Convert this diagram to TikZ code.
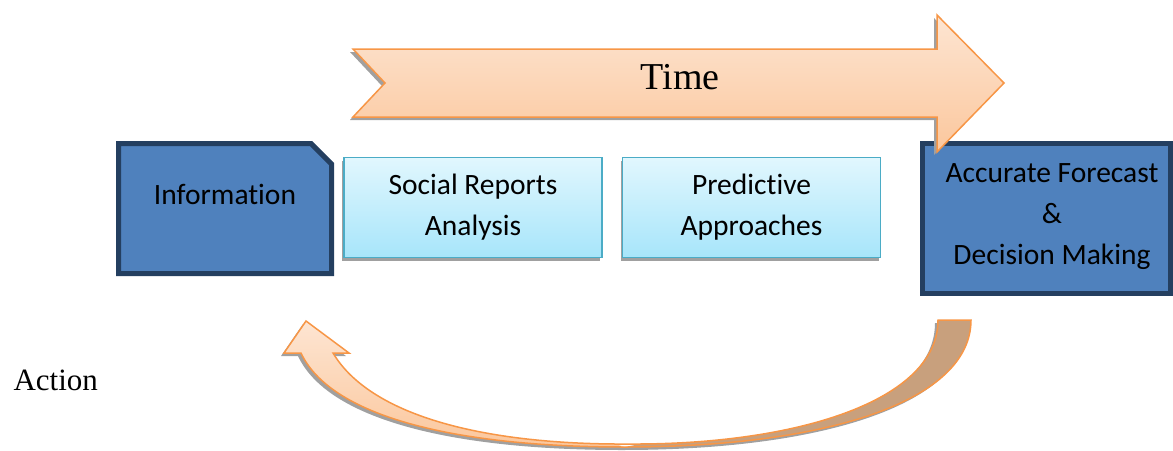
\documentclass[tikz,border=0pt]{standalone}
\usepackage{fontspec}
\setmainfont{Liberation Serif}
\newfontfamily\boxfont[Ligatures={NoCommon}]{Carlito}
\usetikzlibrary{shadows}
\definecolor{darkbd}{RGB}{36,63,96}
\definecolor{boxblue}{RGB}{79,129,189}
\definecolor{lbtop}{RGB}{225,247,254}
\definecolor{lbbot}{RGB}{167,229,250}
\definecolor{lbbd}{RGB}{75,172,198}
\definecolor{orbd}{RGB}{247,150,70}
\definecolor{ortop}{RGB}{253,229,210}
\definecolor{orbot}{RGB}{251,199,157}
\definecolor{brownface}{RGB}{200,160,125}
\definecolor{shgray}{RGB}{160,160,160}
\tikzset{
  darkbox/.style={draw=darkbd, line width=5pt, fill=boxblue, inner sep=0pt},
  lightbox/.style={draw=lbbd, line width=1.5pt, top color=lbtop, bottom color=lbbot,
     inner sep=0pt, minimum width=258pt, minimum height=100pt,
     drop shadow={shadow xshift=-2pt, shadow yshift=-3pt, fill=shgray, opacity=1}},
  boxtext/.style={font=\boxfont\fontsize{29.5}{41}\selectfont, align=center, text=black},
  orarrow/.style={draw=orbd, line width=1.5pt, line join=miter},
  shadowshape/.style={fill=shgray}
}
\begin{document}
\begin{tikzpicture}[x=1pt,y=-1pt]
\useasboundingbox (0,0) rectangle (1173,450);

% Information box (cut corner)
\draw[darkbd, line width=5pt, fill=boxblue, line join=miter]
  (118.5,143.5) -- (311,143.5) -- (331.5,164) -- (331.5,273.5) -- (118.5,273.5) -- cycle;
\node[boxtext] (info) at (225,194) {Information};

% light boxes
\node[lightbox, boxtext] (social) at (473,207.5) {Social Reports\\Analysis};
\node[lightbox, boxtext] (predict) at (751.5,207.5) {Predictive\\Approaches};

% forecast box
\node[darkbox, minimum width=248pt, minimum height=150pt] (forecast) at (1046.5,218.5) {};
\node[boxtext] (forecasttext) at (1052,217) {Accurate Forecast\\\&\\Decision Making};

% Time arrow
\fill[shadowshape] (350,52) -- (934,52) -- (934,18) -- (1001,86) -- (934,155) -- (934,120) -- (350,120) -- (382,86) -- cycle;
\path[orarrow, top color=ortop, bottom color=orbot]
  (353,49) -- (937,49) -- (937,15) -- (1004,83) -- (937,152) -- (937,117) -- (353,117) -- (385,83) -- cycle;
\node[font=\fontsize{38}{40}\selectfont] (time) at (680,77) {Time};

% Action text
\node[font=\fontsize{31}{33}\selectfont, anchor=west] (action) at (10,380) {Action};

% Curved action arrow: shadow
\begin{scope}[shift={(-3,3)}]
\fill[shadowshape]
  (971,320) .. controls (971,400) and (830,447) .. (625,447)
  .. controls (450,447) and (330,415) .. (301,353)
  -- (284,353) -- (306,321) -- (349,353) -- (333,353)
  .. controls (370,415) and (480,443) .. (615,444)
  -- (640,444) .. controls (800,443) and (938,400) .. (938,320) -- cycle;
\end{scope}
% brown back face
\fill[brownface]
  (971,320) .. controls (971,400) and (830,447) .. (625,447)
  -- (640,444) .. controls (800,443) and (938,400) .. (938,320) -- cycle;
% light front face
\shade[top color=ortop, bottom color=orbot]
  (625,447) .. controls (450,447) and (330,415) .. (301,353)
  -- (284,353) -- (306,321) -- (349,353) -- (333,353)
  .. controls (370,415) and (480,443) .. (615,444) -- cycle;
% outline
\draw[orarrow]
  (971,320) .. controls (971,400) and (830,447) .. (625,447)
  .. controls (450,447) and (330,415) .. (301,353)
  -- (284,353) -- (306,321) -- (349,353) -- (333,353)
  .. controls (370,415) and (480,443) .. (615,444)
  -- (640,444) .. controls (800,443) and (938,400) .. (938,320) -- cycle;
\end{tikzpicture}
\end{document}
